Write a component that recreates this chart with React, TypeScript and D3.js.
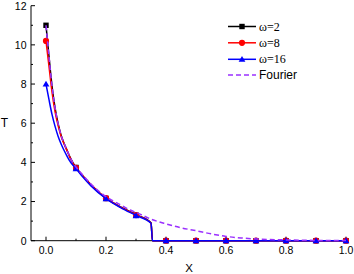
import React from "react";
import * as d3 from "d3";

const curveX = [0, 0.01, 0.02, 0.03, 0.04, 0.05, 0.06, 0.07, 0.08, 0.09, 0.1, 0.12, 0.15, 0.2, 0.25, 0.3, 0.35, 0.355, 0.4, 0.5, 0.6, 0.7, 0.8, 0.9, 1.0];
const w2Curve = [11.0, 9.4, 7.9, 6.8, 6.0, 5.4, 4.98, 4.62, 4.27, 3.97, 3.74, 3.36, 2.86, 2.17, 1.71, 1.33, 0.92, 0, 0, 0, 0, 0, 0, 0, 0];
const w8Curve = [10.2, 8.9, 7.6, 6.6, 5.9, 5.35, 4.95, 4.6, 4.25, 3.95, 3.72, 3.35, 2.85, 2.17, 1.7, 1.32, 0.9, 0, 0, 0, 0, 0, 0, 0, 0];
const w16Curve = [8.0, 7.2, 6.45, 5.85, 5.35, 4.95, 4.62, 4.32, 4.05, 3.85, 3.68, 3.3, 2.8, 2.15, 1.68, 1.29, 0.89, 0, 0, 0, 0, 0, 0, 0, 0];

const fourierX = [0, 0.01, 0.02, 0.03, 0.04, 0.05, 0.06, 0.07, 0.08, 0.09, 0.1, 0.12, 0.15, 0.2, 0.25, 0.28, 0.3, 0.35, 0.4, 0.45, 0.5, 0.55, 0.6, 0.65, 0.7, 0.8, 0.9, 1.0];
const fourierT = [11.0, 9.4, 7.9, 6.8, 6.0, 5.4, 4.98, 4.62, 4.27, 3.97, 3.76, 3.4, 2.9, 2.25, 1.82, 1.57, 1.45, 1.1, 0.86, 0.66, 0.51, 0.35, 0.22, 0.14, 0.09, 0.04, 0.015, 0.005];

const markerX = [0, 0.1, 0.2, 0.3, 0.4, 0.5, 0.6, 0.7, 0.8, 0.9, 1.0];
const w2Markers = [11.0, 3.74, 2.16, 1.3, 0, 0, 0, 0, 0, 0, 0];
const w8Markers = [10.2, 3.72, 2.17, 1.31, 0, 0, 0, 0, 0, 0, 0];
const w16Markers = [8.0, 3.68, 2.15, 1.28, 0, 0, 0, 0, 0, 0, 0];

const xMajor = [0, 0.2, 0.4, 0.6, 0.8, 1.0];
const xMinor = [0.1, 0.3, 0.5, 0.7, 0.9];
const yMajor = [0, 2, 4, 6, 8, 10, 12];
const yMinor = [1, 3, 5, 7, 9, 11];

const legendLabels = ["ω=2", "ω=8", "ω=16", "Fourier"];

const BLACK = "#000000";
const RED = "#ff0000";
const BLUE = "#0000ff";
const PURPLE = "#9b30ff";

function Marker({ kind, cx, cy, color }: { kind: string; cx: number; cy: number; color: string }) {
  if (kind === "square") return <rect x={cx - 2.7} y={cy - 2.7} width={5.4} height={5.4} fill={color} />;
  if (kind === "circle") return <circle cx={cx} cy={cy} r={3.1} fill={color} />;
  const s = 3.4;
  return <path d={`M${cx},${cy - s} L${cx + s},${cy + s * 0.75} L${cx - s},${cy + s * 0.75} Z`} fill={color} />;
}

export default function App() {
  const x = d3.scaleLinear().domain([-0.05, 1.0]).range([31, 346]);
  const y = d3.scaleLinear().domain([0, 12]).range([240.7, 5.7]);
  const line = d3
    .line<[number, number]>()
    .x((d) => x(d[0]))
    .y((d) => y(d[1]))
    .curve(d3.curveMonotoneX);

  const series = [
    { name: legendLabels[0], curve: w2Curve, markers: w2Markers, color: BLACK, kind: "square" },
    { name: legendLabels[1], curve: w8Curve, markers: w8Markers, color: RED, kind: "circle" },
    { name: legendLabels[2], curve: w16Curve, markers: w16Markers, color: BLUE, kind: "triangle" },
  ];

  const axisFont = "'Liberation Sans', Arial, sans-serif";
  const serif = "'Liberation Serif', 'Times New Roman', serif";

  const legendY = [26.5, 42.8, 59.3, 75];

  return (
    <svg width={354} height={274} style={{ position: "absolute", left: 0, top: 0, background: "#fff" }}>
      {/* axes */}
      <line x1={x(-0.05)} x2={x(1.0) + 1} y1={y(0)} y2={y(0)} stroke="#000" strokeWidth={1} />
      <line x1={x(-0.05)} x2={x(-0.05)} y1={y(0)} y2={y(12)} stroke="#000" strokeWidth={1} />
      {xMajor.map((v) => (
        <g key={"xm" + v}>
          <line x1={x(v)} x2={x(v)} y1={y(0)} y2={y(0) - 4} stroke="#000" />
          <text x={x(v)} y={254} fontSize={10.5} fontFamily={axisFont} textAnchor="middle">
            {v.toFixed(1)}
          </text>
        </g>
      ))}
      {xMinor.map((v) => (
        <line key={"xn" + v} x1={x(v)} x2={x(v)} y1={y(0)} y2={y(0) - 2} stroke="#000" />
      ))}
      {yMajor.map((v) => (
        <g key={"ym" + v}>
          <line x1={x(-0.05)} x2={x(-0.05) + 4} y1={y(v)} y2={y(v)} stroke="#000" />
          <text x={26.5} y={y(v) + 3.8} fontSize={10.5} fontFamily={axisFont} textAnchor="end">
            {v}
          </text>
        </g>
      ))}
      {yMinor.map((v) => (
        <line key={"yn" + v} x1={x(-0.05)} x2={x(-0.05) + 2} y1={y(v)} y2={y(v)} stroke="#000" />
      ))}
      <text x={4.5} y={127} fontSize={12} fontFamily={axisFont} textAnchor="middle">
        T
      </text>
      <text x={189} y={272} fontSize={11.5} fontFamily={axisFont} textAnchor="middle">
        X
      </text>

      {/* series */}
      {series.map((s) => (
        <g key={s.name}>
          <path
            d={line(curveX.map((v, i) => [v, s.curve[i]] as [number, number])) || ""}
            fill="none"
            stroke={s.color}
            strokeWidth={1.5}
          />
          {markerX.map((v, i) => (
            <Marker key={i} kind={s.kind} cx={x(v)} cy={y(s.markers[i])} color={s.color} />
          ))}
        </g>
      ))}
      <path
        d={line(fourierX.map((v, i) => [v, fourierT[i]] as [number, number])) || ""}
        fill="none"
        stroke={PURPLE}
        strokeWidth={1.5}
        strokeDasharray="5,3"
      />

      {/* legend */}
      {series.map((s, i) => (
        <g key={"lg" + i}>
          <line x1={228} x2={256} y1={legendY[i]} y2={legendY[i]} stroke={s.color} strokeWidth={1.5} />
          <Marker kind={s.kind} cx={242} cy={legendY[i]} color={s.color} />
          <text x={259} y={legendY[i] + 4} fontSize={12} fontFamily={serif}>
            {s.name}
          </text>
        </g>
      ))}
      <line x1={228} x2={256} y1={legendY[3]} y2={legendY[3]} stroke={PURPLE} strokeWidth={1.5} strokeDasharray="5,3" />
      <text x={259} y={legendY[3] + 4.2} fontSize={12} fontFamily={axisFont}>
        {legendLabels[3]}
      </text>
    </svg>
  );
}
